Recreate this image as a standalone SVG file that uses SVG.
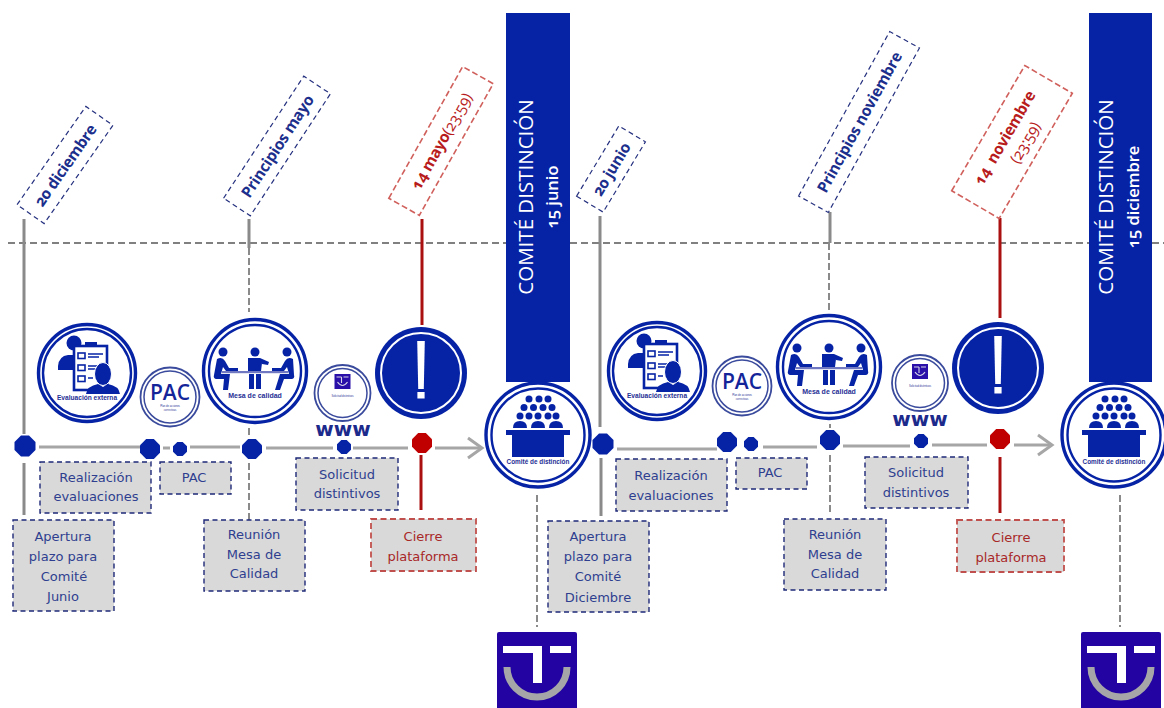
<svg xmlns="http://www.w3.org/2000/svg" width="1164" height="708" viewBox="0 0 1164 708">
<style>
.bx{fill:#d9d9d9;stroke:#1f2a78;stroke-width:1.4;stroke-dasharray:5 3.5}
.rbx{fill:#d9d9d9;stroke:#c0504d;stroke-width:1.8;stroke-dasharray:6 3.5}
.tx{font-family:"DejaVu Sans",sans-serif;font-size:13px;fill:#2f3f90;text-anchor:middle}
.rtx{font-family:"DejaVu Sans",sans-serif;font-size:13px;fill:#a82828;text-anchor:middle}
.tag{fill:#fff;stroke:#25317f;stroke-width:1.2;stroke-dasharray:5 3.5}
.rtag{fill:#fff;stroke:#d0605c;stroke-width:1.6;stroke-dasharray:6 3}
.dt{font-family:"Open Sans","Noto Sans",sans-serif;font-weight:700;font-size:15.5px;letter-spacing:-.3px;fill:#1c2f8c;text-anchor:middle;font-feature-settings:"onum"}
.rdt{font-family:"Open Sans","Noto Sans",sans-serif;font-size:15.5px;letter-spacing:-.3px;fill:#b81c1c;text-anchor:middle;font-feature-settings:"onum"}
.cm{font-family:"Open Sans","Noto Sans",sans-serif;fill:#fff;font-size:20.5px;text-anchor:middle}
.cmb{font-family:"Open Sans","Noto Sans",sans-serif;fill:#fff;font-weight:600;font-size:16.5px;text-anchor:middle;font-feature-settings:"onum"}
.lb{font-family:"Liberation Sans",sans-serif;font-size:6.6px;font-weight:700;fill:#1f2f95;text-anchor:middle}
.www{font-family:"DejaVu Sans",sans-serif;font-size:20px;font-weight:700;fill:#1c2a8c;text-anchor:middle}
.b{fill:#0623a5}
.ring1{fill:#fff;stroke:#0623a5;stroke-width:3.4}
.ring2{fill:none;stroke:#0623a5;stroke-width:2.4}
.ring3{fill:#fff;stroke:#3a4a9c;stroke-width:1.8}
.ring4{fill:none;stroke:#3a4a9c;stroke-width:1.5}
.hl{stroke:#a6a6a6;stroke-width:3;fill:none}
.vs{stroke:#8a8a8a;stroke-width:3;fill:none}
.vd{stroke:#8a8a8a;stroke-width:2;stroke-dasharray:7 3;fill:none}
.vr{stroke:#ab1010;stroke-width:3;fill:none}
</style>
<defs>
<polygon id="oct" points="-0.38,-1 0.38,-1 1,-0.38 1,0.38 0.38,1 -0.38,1 -1,0.38 -1,-0.38"/>
<g id="ieval">
<circle class="ring1" r="48.5"/><circle class="ring2" r="44"/>
<circle class="b" cx="-13" cy="-30" r="7.5"/>
<path class="b" d="M-29,-7 q1,-10 10,-11 h8 v15 h-18z"/>
<rect x="-13" y="-27" width="33" height="44" fill="#fff" stroke="#0623a5" stroke-width="2.6"/>
<rect class="b" x="-2" y="-31" width="12" height="4"/>
<g fill="none" stroke="#0623a5" stroke-width="1.6">
<rect x="-9" y="-20" width="7" height="5.5"/><rect x="-9" y="-8" width="7" height="5.5"/><rect x="-9" y="3" width="7" height="5.5"/>
<path d="M1,-19h15M1,-16h11M1,-7h10M1,-4h8M1,5h5"/></g>
<ellipse cx="16" cy="1" rx="8.5" ry="11.5" fill="#0623a5" stroke="#fff" stroke-width="1"/>
<path class="b" d="M-1,21 q1,-8 12,-10 l5,3 l5,-3 q11,2 12,10z"/>
<text class="lb" y="27">Evaluación externa</text>
</g>
<g id="imesa">
<circle class="ring1" r="51.5"/><circle class="ring2" r="46"/>
<circle class="b" cx="-32" cy="-19" r="4.5"/><circle class="b" cx="0" cy="-19" r="4.5"/><circle class="b" cx="32" cy="-19" r="4.5"/>
<rect x="-33" y="0" width="66" height="2.2" fill="#6f78c0"/>
<path class="b" d="M-7,-13 h12 l9,4 l-1,3 l-6,-1 v-1 l-1,8 h-13z M-6,3 h5 v15 h-5z M1,3 h5 v15 h-5z"/>
<path class="b" d="M-38,-12 q5,-3 8,2 l4,7 h9 v3 h-12 l-3,-4 l-2,7 h9 l-2,16 h-5 l1,-11 h-8 q-3,-1 -2,-4z"/>
<path class="b" d="M38,-12 q-5,-3 -8,2 l-4,7 h-9 v3 h12 l3,-4 l2,7 h-9 l-5,16 h5 l4,-11 h8 q3,-1 2,-4z"/>
<text class="lb" y="27" style="font-size:7px">Mesa de calidad</text>
</g>
<g id="ipac">
<circle class="ring3" r="29.5"/><circle class="ring4" r="26"/>
<text x="0" y="3" font-family="Open Sans,sans-serif" font-weight="600" font-size="21" fill="#14259a" text-anchor="middle">PAC</text>
<text class="lb" y="10" style="font-size:2.6px;font-weight:400">Plan de acciones</text>
<text class="lb" y="14" style="font-size:2.6px;font-weight:400">correctivas</text>
</g>
<g id="isol">
<circle class="ring3" r="28"/><circle class="ring4" r="24.5"/>
<rect x="-8" y="-19" width="16" height="15" fill="#2a10a8"/>
<path d="M-6,-16h5M1,-16h5M-1,-16v6M-5,-11q5,7 10,0" fill="none" stroke="#d8d8e8" stroke-width="1.1"/>
<text class="lb" y="4" style="font-size:2.6px;font-weight:400">Solicitud distintivos</text>
</g>
<g id="iexc">
<circle r="46" class="b"/><circle r="40" fill="none" stroke="#fff" stroke-width="2"/>
<path d="M-3.8,-32h7.6l-1,48h-5.6z" fill="#fff"/><rect x="-3.6" y="19" width="7.2" height="6.5" fill="#fff"/>
</g>
<g id="icom">
<circle class="ring1" r="52"/><circle class="ring2" r="46.5"/>
<g class="b">
<circle cx="-9" cy="-36" r="3.5"/><circle cx="1" cy="-36" r="3.5"/><circle cx="10" cy="-36" r="3.5"/>
<circle cx="-14" cy="-27.5" r="3.5"/><circle cx="-4.5" cy="-27.5" r="3.5"/><circle cx="5" cy="-27.5" r="3.5"/><circle cx="14" cy="-27.5" r="3.5"/>
<circle cx="-18" cy="-19" r="3.5"/><circle cx="-9" cy="-19" r="3.5"/><circle cx="0" cy="-19" r="3.5"/><circle cx="10" cy="-19" r="3.5"/><circle cx="18" cy="-19" r="3.5"/>
<path d="M-25,-7q0,-7 7,-7t7,7z M-7,-7q0,-7 7,-7t7,7z M11,-7q0,-7 7,-7t7,7z"/>
<rect x="-32" y="-5" width="64" height="5"/><rect x="-26" y="0" width="52" height="22"/>
</g>
<text class="lb" y="29" style="font-size:6.4px">Comité de distinción</text>
</g>
<g id="ilogo">
<rect x="0" y="0" width="80" height="78" rx="2" fill="#2304a2"/>
<path d="M6,14h39v37h-9v-30h-30z M53,14h21v7h-21z" fill="#fff"/>
<path d="M10,35A30,30 0 0 0 70,35" fill="none" stroke="#a6a6a8" stroke-width="7"/>
</g>
</defs>
<rect width="1164" height="708" fill="#fff"/>
<g id="connectors">
<path d="M8,243H506M570,243H1089M1152,243H1164" stroke="#808080" stroke-width="2" stroke-dasharray="7 4" fill="none"/>
<path class="vs" d="M24,219V434M24,463V515M249,219V248M600,216V427M601,458V516M830,212V243"/>
<path class="vd" d="M249,248V312M249,428V436M249,463V520M537,495V627M829,243V310M830,424V428M830,455V515M1120,495V627"/>
<path class="vr" d="M422,219V325M421,455V510M1000,218V318M1000,457V513"/>
<path class="hl" d="M39,447H140M163,448H170M190,447H240M266,448H333M353,448H408M435,448H480M617,449H717M763,447H817M843,446H910M932,445H987M1014,445H1050"/>
<path class="hl" d="M468,438l14,10l-14,10M1038,435l14,10l-14,10" stroke-width="3.5"/>
</g>
<g id="n-d1"><use href="#oct" class="b" transform="translate(25,446) scale(10.5)"/></g>
<g id="n-d2"><use href="#oct" class="b" transform="translate(150,449) scale(10)"/></g>
<g id="n-d3"><use href="#oct" class="b" transform="translate(180,449) scale(7)"/></g>
<g id="n-d4"><use href="#oct" class="b" transform="translate(252,449) scale(10)"/></g>
<g id="n-d5"><use href="#oct" class="b" transform="translate(344,447) scale(7)"/></g>
<g id="n-d6"><use href="#oct" fill="#c00000" transform="translate(422,443) scale(10)"/></g>
<g id="n-d7"><use href="#oct" class="b" transform="translate(603,444) scale(10.5)"/></g>
<g id="n-d8"><use href="#oct" class="b" transform="translate(727,442) scale(10)"/></g>
<g id="n-d9"><use href="#oct" class="b" transform="translate(751,444) scale(7)"/></g>
<g id="n-d10"><use href="#oct" class="b" transform="translate(830,440) scale(10)"/></g>
<g id="n-d11"><use href="#oct" class="b" transform="translate(921,441) scale(7)"/></g>
<g id="n-d12"><use href="#oct" fill="#c00000" transform="translate(1000,439) scale(10)"/></g>

<g id="n-eval1"><use href="#ieval" transform="translate(87,373)"/></g>
<g id="n-pac1"><use href="#ipac" transform="translate(170,397)"/></g>
<g id="n-mesa1"><use href="#imesa" transform="translate(255,371)"/></g>
<g id="n-sol1"><use href="#isol" transform="translate(342.5,393)"/></g>
<g id="n-exc1"><use href="#iexc" transform="translate(421,373)"/></g>
<g id="n-eval2"><use href="#ieval" transform="translate(657,371)"/></g>
<g id="n-pac2"><use href="#ipac" transform="translate(742,386)"/></g>
<g id="n-mesa2"><use href="#imesa" transform="translate(829,367)"/></g>
<g id="n-sol2"><use href="#isol" transform="translate(920,383)"/></g>
<g id="n-exc2"><use href="#iexc" transform="translate(998,368)"/></g>

<g id="n-comite1"><rect x="506" y="13" width="64" height="369" class="b"/>
<text class="cm" transform="translate(533,197) rotate(-90)">COMITÉ DISTINCIÓN</text>
<text class="cmb" transform="translate(558,197) rotate(-90)">15 junio</text></g>
<g id="n-comite2"><rect x="1089" y="13" width="63" height="369" class="b"/>
<text class="cm" transform="translate(1113,197) rotate(-90)">COMITÉ DISTINCIÓN</text>
<text class="cmb" transform="translate(1139,197) rotate(-90)">15 diciembre</text></g>
<g id="n-cd1"><use href="#icom" transform="translate(538,435)"/></g>
<g id="n-cd2"><use href="#icom" transform="translate(1114,435)"/></g>
<g id="n-logo1"><use href="#ilogo" transform="translate(497,632)"/></g>
<g id="n-logo2"><use href="#ilogo" transform="translate(1081,632)"/></g>

<g id="n-www1"><text class="www" x="343" y="436">www</text></g>
<g id="n-www2"><text class="www" x="920" y="426">www</text></g>

<g id="n-b1"><rect class="bx" x="40" y="462" width="111" height="51"/><text class="tx" x="96" y="482">Realización</text><text class="tx" x="96" y="501">evaluaciones</text></g>
<g id="n-b2"><rect class="bx" x="160" y="462" width="71" height="32"/><text class="tx" x="194" y="482">PAC</text></g>
<g id="n-b3"><rect class="bx" x="296" y="458" width="102" height="52"/><text class="tx" x="347" y="479">Solicitud</text><text class="tx" x="347" y="498">distintivos</text></g>
<g id="n-b4"><rect class="bx" x="13" y="520" width="101" height="91"/><text class="tx" x="63" y="541">Apertura</text><text class="tx" x="63" y="561">plazo para</text><text class="tx" x="64" y="581">Comité</text><text class="tx" x="63" y="601">Junio</text></g>
<g id="n-b5"><rect class="bx" x="204" y="520" width="101" height="71"/><text class="tx" x="254" y="539">Reunión</text><text class="tx" x="254" y="559">Mesa de</text><text class="tx" x="254" y="578">Calidad</text></g>
<g id="n-b6"><rect class="rbx" x="371" y="519" width="105" height="52"/><text class="rtx" x="423" y="541">Cierre</text><text class="rtx" x="423" y="561">plataforma</text></g>
<g id="n-b7"><rect class="bx" x="616" y="459" width="111" height="52"/><text class="tx" x="671" y="480">Realización</text><text class="tx" x="671" y="500">evaluaciones</text></g>
<g id="n-b8"><rect class="bx" x="736" y="458" width="71" height="31"/><text class="tx" x="770" y="477">PAC</text></g>
<g id="n-b9"><rect class="bx" x="865" y="457" width="103" height="51"/><text class="tx" x="916" y="477">Solicitud</text><text class="tx" x="916" y="497">distintivos</text></g>
<g id="n-b10"><rect class="bx" x="548" y="521" width="101" height="91"/><text class="tx" x="598" y="541">Apertura</text><text class="tx" x="598" y="561">plazo para</text><text class="tx" x="598" y="581">Comité</text><text class="tx" x="598" y="602">Diciembre</text></g>
<g id="n-b11"><rect class="bx" x="784" y="519" width="102" height="71"/><text class="tx" x="835" y="539">Reunión</text><text class="tx" x="835" y="559">Mesa de</text><text class="tx" x="835" y="578">Calidad</text></g>
<g id="n-b12"><rect class="rbx" x="957" y="520" width="107" height="52"/><text class="rtx" x="1011" y="542">Cierre</text><text class="rtx" x="1011" y="562">plataforma</text></g>

<g id="n-t1" transform="translate(65,165) rotate(-55)"><rect class="tag" x="-60" y="-16.5" width="120" height="33"/><text class="dt" y="6">20 diciembre</text></g>
<g id="n-t2" transform="translate(277,146) rotate(-56.7)"><rect class="tag" x="-73" y="-16" width="146" height="32"/><text class="dt" y="6">Principios mayo</text></g>
<g id="n-t3" transform="translate(441,141) rotate(-60.7)"><rect class="rtag" x="-75.5" y="-17.5" width="151" height="35"/><text class="rdt" y="6"><tspan font-weight="700">14 mayo</tspan><tspan>(23:59)</tspan></text></g>
<g id="n-t4" transform="translate(611,169) rotate(-59)"><rect class="tag" x="-41" y="-15.5" width="82" height="31"/><text class="dt" y="6">20 junio</text></g>
<g id="n-t5" transform="translate(859,122) rotate(-61)"><rect class="tag" x="-94" y="-17" width="188" height="34"/><text class="dt" y="6">Principios noviembre</text></g>
<g id="n-t6" transform="translate(1012,142) rotate(-59.7)"><rect class="rtag" x="-72.5" y="-27.5" width="145" height="55"/><text class="rdt" y="-3" font-weight="700" xml:space="preserve">14  noviembre</text><text class="rdt" y="17" x="6">(23:59)</text></g>
</svg>
